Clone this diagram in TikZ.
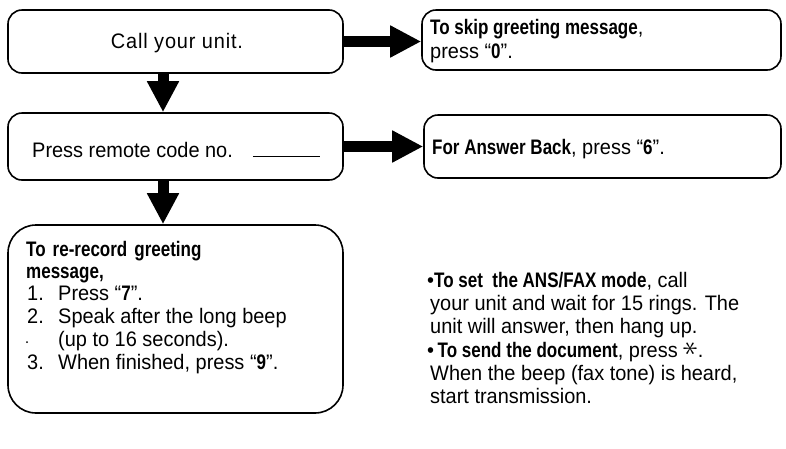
\documentclass[tikz,border=0pt]{standalone}
\usepackage{fontspec}
\setmainfont{Liberation Sans}[FakeStretch=0.95,BoldFeatures={FakeStretch=0.81}]
\usetikzlibrary{arrows.meta,calc}
\begin{document}
\begin{tikzpicture}[x=1pt,y=-1pt,
 box/.style={draw,line width=1.6pt,rounded corners=14pt,inner sep=0pt},
 txt/.style={anchor=base west,inner sep=0pt,font=\fontsize{21}{23}\selectfont},
 bigarrow/.style={line width=11pt,-{Triangle[length=31pt,width=30pt]}},
]
\useasboundingbox (0,0) rectangle (786,448);
% boxes
\node[box, minimum width=335pt, minimum height=63pt] (b1) at (175.5,41.5) {};
\node[box, minimum width=335pt, minimum height=67pt] (b2) at (175.5,146.5) {};
\node[box, rounded corners=28pt, minimum width=335pt, minimum height=188pt] (b3) at (175.5,319) {};
\node[box, minimum width=359pt, minimum height=60pt] (skip) at (601.5,40) {};
\node[box, minimum width=357pt, minimum height=63pt] (ans) at (602.5,146.5) {};
% arrows
\coordinate (ax) at (163,0);
\draw[bigarrow] (b1.east) -- (b1.east -| skip.west);
\draw[bigarrow] (b2.east) -- (b2.east -| ans.west);
\draw[bigarrow] (b1.south -| ax) -- (b2.north -| ax);
\draw[bigarrow] (b2.south -| ax) -- (b3.north -| ax);
% texts
\node[txt, anchor=base] (t1) at (177,48) {\addfontfeature{LetterSpace=4}Call your unit.};
\node[txt] (t2) at (32,157) {Press remote code no.\hspace{20pt}\rule{67pt}{1.2pt}};
\node[txt] (s1) at (430,34) {\textbf{To skip greeting message},};
\node[txt] (s2) at (430,58) {press “\textbf{0}”.};
\node[txt] (a1) at (432,154) {\textbf{For Answer Back}, press “\textbf{6}”.};
\node[txt] (r1) at (26,256) {\textbf{To\hspace{7pt}re-record\hspace{7pt}greeting}};
\node[txt] (r2) at (26,278) {\textbf{message,}};
\node[txt] (n1) at (27,300) {1.};
\node[txt] (r3) at (58,300) {Press “\textbf{7}”.};
\node[txt] (n2) at (27,323) {2.};
\node[txt] (r4) at (58,323) {Speak after the long beep};
\node[txt] (r5) at (58,346) {(up to 16 seconds).};
\node[txt] (n3) at (27,369) {3.};
\node[txt] (r6) at (58,369) {When finished, press “\textbf{9}”.};
\fill (27,342) circle (1pt);
% right notes
\node[txt] (p1) at (427,287) {•\textbf{To set\ \ the ANS/FAX mode}, call};
\node[txt] (p2) at (430,310) {your unit and wait for 15 rings. The};
\node[txt] (p3) at (430,333) {unit will answer, then hang up.};
\node[txt] (q1) at (427,357) {•\,\textbf{To send the document}, press \raisebox{1pt}{\scalebox{1.5}{\rotatebox[origin=c]{90}{$\ast$}}}.};
\node[txt] (q2) at (430,380) {When the beep (fax tone) is heard,};
\node[txt] (q3) at (430,403) {start transmission.};
\end{tikzpicture}
\end{document}
